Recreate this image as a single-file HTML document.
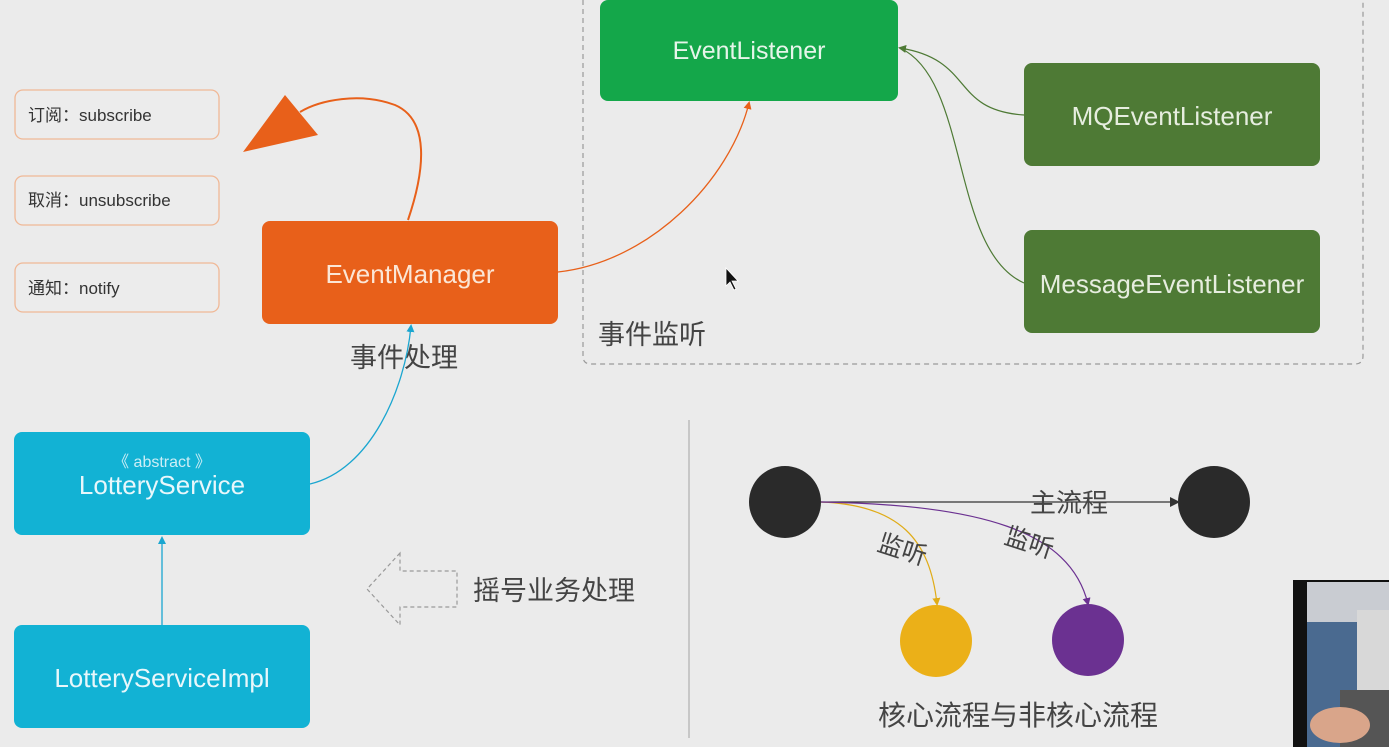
<!DOCTYPE html>
<html><head><meta charset="utf-8"><style>
html,body{margin:0;padding:0;background:#ebebeb;width:1389px;height:747px;overflow:hidden}
svg{display:block}
text{font-family:"Liberation Sans","Noto Sans CJK SC",sans-serif}
</style></head><body>
<svg width="1389" height="747" viewBox="0 0 1389 747" xmlns="http://www.w3.org/2000/svg">
<defs>
<marker id="ao" markerWidth="8" markerHeight="8" refX="6" refY="4" orient="auto" markerUnits="userSpaceOnUse"><path d="M0,0 L8,4 L0,8 z" fill="#e8601a"/></marker>
<marker id="ab" markerWidth="8" markerHeight="8" refX="6" refY="4" orient="auto" markerUnits="userSpaceOnUse"><path d="M0,0 L8,4 L0,8 z" fill="#1aa6d0"/></marker>
<marker id="ag" markerWidth="8" markerHeight="8" refX="6" refY="4" orient="auto" markerUnits="userSpaceOnUse"><path d="M0,0 L8,4 L0,8 z" fill="#4e7a35"/></marker>
<marker id="ak" markerWidth="10" markerHeight="10" refX="8" refY="5" orient="auto" markerUnits="userSpaceOnUse"><path d="M0,0 L10,5 L0,10 z" fill="#333"/></marker>
<marker id="ay" markerWidth="8" markerHeight="8" refX="6" refY="4" orient="auto" markerUnits="userSpaceOnUse"><path d="M0,0 L8,4 L0,8 z" fill="#e0ac18"/></marker>
<marker id="ap" markerWidth="8" markerHeight="8" refX="6" refY="4" orient="auto" markerUnits="userSpaceOnUse"><path d="M0,0 L8,4 L0,8 z" fill="#6b3191"/></marker>
</defs>
<path d="M583,0 V356 Q583,364 591,364 H1355 Q1363,364 1363,356 V0" fill="none" stroke="#999" stroke-dasharray="5,4" stroke-width="1.2"/>
<text x="598" y="344" font-size="27" fill="#444">事件监听</text>
<g fill="#ececec" stroke="#f0b896" stroke-width="1.3">
<rect x="15" y="90" width="204" height="49" rx="8"/>
<rect x="15" y="176" width="204" height="49" rx="8"/>
<rect x="15" y="263" width="204" height="49" rx="8"/>
</g>
<g font-size="17" fill="#333">
<text x="28" y="121">订阅：subscribe</text>
<text x="28" y="206">取消：unsubscribe</text>
<text x="28" y="294">通知：notify</text>
</g>
<path d="M408,220 C425,170 430,120 395,105 C360,92 320,100 300,112" fill="none" stroke="#e8601a" stroke-width="2"/>
<polygon points="285,95 243,152 318,135" fill="#e8601a"/>
<rect x="262" y="221" width="296" height="103" rx="8" fill="#e8601a"/>
<text x="410" y="283" font-size="26" fill="#fbe6d6" text-anchor="middle">EventManager</text>
<text x="350" y="367" font-size="27" fill="#444">事件处理</text>
<rect x="600" y="0" width="298" height="101" rx="8" fill="#14a74a"/>
<text x="749" y="59" font-size="25" fill="#e6f5ea" text-anchor="middle">EventListener</text>
<path d="M558,272 C650,262 730,180 749,103" fill="none" stroke="#e8601a" stroke-width="1.3" marker-end="url(#ao)"/>
<rect x="1024" y="63" width="296" height="103" rx="8" fill="#4e7a35"/>
<text x="1172" y="125" font-size="26" fill="#e6eddf" text-anchor="middle">MQEventListener</text>
<rect x="1024" y="230" width="296" height="103" rx="8" fill="#4e7a35"/>
<text x="1172" y="293" font-size="26" fill="#e6eddf" text-anchor="middle">MessageEventListener</text>
<path d="M1024,115 C950,110 975,60 900,48" fill="none" stroke="#4e7a35" stroke-width="1.2" marker-end="url(#ag)"/>
<path d="M1024,283 C950,250 970,80 900,48" fill="none" stroke="#4e7a35" stroke-width="1.2"/>
<rect x="14" y="432" width="296" height="103" rx="8" fill="#12b2d4"/>
<text x="162" y="467" font-size="16" fill="#cdeef6" text-anchor="middle" font-family="Liberation Mono, monospace">《 abstract 》</text>
<text x="162" y="494" font-size="26" fill="#e8f7fb" text-anchor="middle">LotteryService</text>
<rect x="14" y="625" width="296" height="103" rx="8" fill="#12b2d4"/>
<text x="162" y="687" font-size="26" fill="#e8f7fb" text-anchor="middle">LotteryServiceImpl</text>
<line x1="162" y1="625" x2="162" y2="538" stroke="#1aa6d0" stroke-width="1.3" marker-end="url(#ab)"/>
<path d="M310,484 C370,470 405,390 411,326" fill="none" stroke="#1aa6d0" stroke-width="1.3" marker-end="url(#ab)"/>
<path d="M400,553 L367,589 L400,625 V607 H457 V571 H400 Z" fill="none" stroke="#999" stroke-dasharray="4,3" stroke-width="1.2"/>
<text x="473" y="600" font-size="27" fill="#444">摇号业务处理</text>
<line x1="689" y1="420" x2="689" y2="738" stroke="#bbb" stroke-width="1.5"/>
<circle cx="785" cy="502" r="36" fill="#2a2a2a"/>
<circle cx="1214" cy="502" r="36" fill="#2a2a2a"/>
<circle cx="936" cy="641" r="36" fill="#ebb018"/>
<circle cx="1088" cy="640" r="36" fill="#6b3191"/>
<line x1="821" y1="502" x2="1178" y2="502" stroke="#333" stroke-width="1.2" marker-end="url(#ak)"/>
<text x="1030" y="512" font-size="26" fill="#444">主流程</text>
<path d="M821,502 C900,505 930,540 937,604" fill="none" stroke="#e0ac18" stroke-width="1.2" marker-end="url(#ay)"/>
<path d="M821,502 C980,505 1070,530 1088,604" fill="none" stroke="#6b3191" stroke-width="1.2" marker-end="url(#ap)"/>
<text x="876" y="550" font-size="25" fill="#444" transform="rotate(18 876 550)">监听</text>
<text x="1003" y="543" font-size="25" fill="#444" transform="rotate(18 1003 543)">监听</text>
<text x="878" y="725" font-size="28" fill="#444">核心流程与非核心流程</text>
<path d="M726,268 L726,286 L730,282 L734,290 L736,289 L732,281 L738,281 Z" fill="#111" stroke="#fff" stroke-width="0.8"/>
<rect x="1293" y="580" width="96" height="167" fill="#111"/>
<rect x="1307" y="582" width="82" height="165" fill="#4a6a90"/>
<rect x="1307" y="582" width="82" height="40" fill="#c9ccd2"/>
<rect x="1357" y="610" width="32" height="80" fill="#d8d8d8"/>
<rect x="1340" y="690" width="49" height="57" fill="#555"/>
<ellipse cx="1340" cy="725" rx="30" ry="18" fill="#d9a58a"/>
</svg>
</body></html>
